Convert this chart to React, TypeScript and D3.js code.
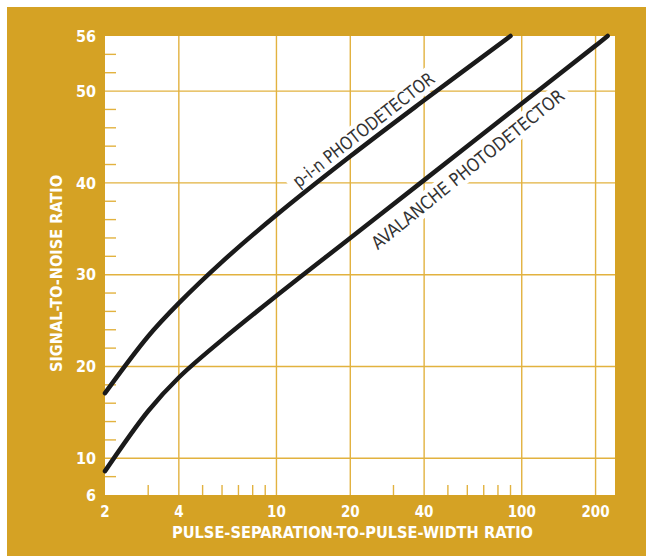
import React from "react";
import * as d3 from "d3";

// ---- data ----
const pinX = [2, 3, 4, 6, 10, 20, 40, 90];
const pinY = [17.1, 23.3, 26.9, 31.4, 36.5, 42.9, 49.0, 56];
const apdX = [2, 3, 4, 6, 10, 20, 40, 100, 200, 224];
const apdY = [8.6, 15.15, 18.8, 22.9, 27.7, 34.0, 40.3, 48.65, 54.95, 56];

const xGrid = [4, 10, 20, 40, 100, 200];
const xTickLabels = [2, 4, 10, 20, 40, 100, 200];
const xMinor = [3, 5, 6, 7, 8, 9, 30, 50, 60, 70, 80, 90];
const yGrid = [10, 20, 30, 40, 50];
const yTickLabels = [6, 10, 20, 30, 40, 50, 56];
const yMinor = [8, 12, 14, 16, 18, 22, 24, 26, 28, 32, 34, 36, 38, 42, 44, 46, 48, 52, 54];

const curveLabels = ["p-i-n PHOTODETECTOR", "AVALANCHE PHOTODETECTOR"];
const labelAnchorX = [22.6, 60.2];
const labelAnchorY = [45.8, 41.5];
const labelAngles = [-38, -39];
const labelLengths = [174, 242];

const xTitle = "PULSE-SEPARATION-TO-PULSE-WIDTH RATIO";
const yTitle = "SIGNAL-TO-NOISE RATIO";

const W = 646;
const H = 556;
const GOLD = "#D5A224";
const GRID = "#E2B23F";
const FONT = "'Liberation Sans Narrow', 'DejaVu Sans Condensed', 'Roboto', sans-serif";

export default function App() {
  const x = d3.scaleLog().domain([2, 240]).range([105, 615]);
  const y = d3.scaleLinear().domain([6, 56]).range([495, 36]);
  const [x0, x1] = x.range();
  const [y0, y1] = y.range();

  const line = d3
    .line<[number, number]>()
    .x((d) => x(d[0]))
    .y((d) => y(d[1]))
    .curve(d3.curveCatmullRom.alpha(0.5));

  const pin = pinX.map((v, i) => [v, pinY[i]] as [number, number]);
  const apd = apdX.map((v, i) => [v, apdY[i]] as [number, number]);

  return (
    <svg
      width={W}
      height={H}
      style={{ position: "absolute", left: 0, top: 0, display: "block" }}
    >
      <rect x={0} y={0} width={W} height={H} fill="#ffffff" />
      <rect x={7} y={7} width={W - 7} height={H - 7} fill={GOLD} />
      <rect x={x0} y={y1} width={x1 - x0} height={y0 - y1} fill="#ffffff" />

      {/* grid */}
      {xGrid.map((v) => (
        <line key={"gx" + v} x1={x(v)} x2={x(v)} y1={y1} y2={y0} stroke={GRID} strokeWidth={1.4} />
      ))}
      {yGrid.map((v) => (
        <line key={"gy" + v} x1={x0} x2={x1} y1={y(v)} y2={y(v)} stroke={GRID} strokeWidth={1.4} />
      ))}
      {xMinor.map((v) => (
        <line key={"mx" + v} x1={x(v)} x2={x(v)} y1={y0} y2={y0 - 10} stroke={GRID} strokeWidth={1.4} />
      ))}
      {yMinor.map((v) => (
        <line key={"my" + v} x1={x0} x2={x0 + 11} y1={y(v)} y2={y(v)} stroke={GRID} strokeWidth={1.4} />
      ))}

      {/* curve labels with white backing */}
      {curveLabels.map((t, i) => {
        const cx = x(labelAnchorX[i]);
        const cy = y(labelAnchorY[i]);
        const len = labelLengths[i];
        return (
          <g key={t} transform={`translate(${cx},${cy}) rotate(${labelAngles[i]})`}>
            <rect x={-len / 2 - 6} y={-11} width={len + 12} height={22} fill="#ffffff" />
            <text
              x={-len / 2}
              y={6.5}
              textLength={len}
              lengthAdjust="spacingAndGlyphs"
              fontFamily={FONT}
              fontSize={18}
              fill="#333333"
            >
              {t}
            </text>
          </g>
        );
      })}

      {/* curves */}
      <path d={line(pin) || ""} fill="none" stroke="#1a1a1a" strokeWidth={4.5} strokeLinecap="round" />
      <path d={line(apd) || ""} fill="none" stroke="#1a1a1a" strokeWidth={4.5} strokeLinecap="round" />

      {/* tick labels */}
      {yTickLabels.map((v) => (
        <text
          key={"ly" + v}
          x={96}
          y={y(v)}
          dy="0.36em"
          textAnchor="end"
          fontFamily={FONT}
          fontWeight="bold"
          fontSize={16}
          fill="#ffffff"
        >
          {v}
        </text>
      ))}
      {xTickLabels.map((v) => (
        <text
          key={"lx" + v}
          x={x(v)}
          y={517}
          textAnchor="middle"
          fontFamily={FONT}
          fontWeight="bold"
          fontSize={15}
          fill="#ffffff"
        >
          {v}
        </text>
      ))}

      {/* axis titles */}
      <text
        x={172}
        y={538}
        textLength={361}
        lengthAdjust="spacingAndGlyphs"
        fontFamily={FONT}
        fontWeight="bold"
        fontSize={15}
        fill="#ffffff"
      >
        {xTitle}
      </text>
      <text
        transform={`translate(62,372) rotate(-90)`}
        textLength={197}
        lengthAdjust="spacingAndGlyphs"
        fontFamily={FONT}
        fontWeight="bold"
        fontSize={15}
        fill="#ffffff"
      >
        {yTitle}
      </text>
    </svg>
  );
}
